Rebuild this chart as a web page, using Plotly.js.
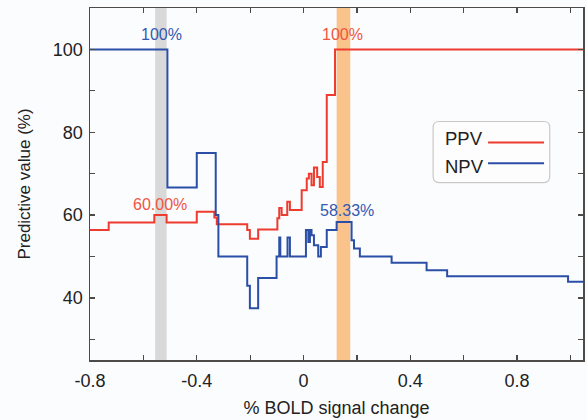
<!DOCTYPE html>
<html>
<head>
<meta charset="utf-8">
<script src="https://cdn.plot.ly/plotly-3.0.1.min.js"></script>
<style>html,body{margin:0;padding:0;background:#fbfcfe;}#chart{width:587px;height:420px;}</style>
</head>
<body>
<div id="chart"></div>
<script>
// PPV step curve (x = % BOLD signal change threshold, y = %)
var ppvX = [-0.8, -0.730, -0.559, -0.513, -0.400, -0.334, -0.325, -0.211, -0.201, -0.170, -0.098, -0.091, -0.082, -0.061, -0.051, -0.007, 0.012, 0.020, 0.030, 0.039, 0.051, 0.061, 0.072, 0.087, 0.118, 1.047];
var ppvY = [56.4, 58.2, 60.0, 58.2, 60.8, 59.4, 57.8, 56.4, 54.3, 56.5, 59.2, 61.7, 60.0, 63.2, 61.2, 66.0, 68.8, 70.0, 67.2, 71.5, 69.2, 66.8, 72.8, 89.0, 100, 100];
// NPV step curve
var npvX = [-0.8, -0.510, -0.400, -0.329, -0.319, -0.211, -0.201, -0.170, -0.101, -0.091, -0.087, -0.060, -0.051, 0.009, 0.018, 0.024, 0.030, 0.039, 0.055, 0.065, 0.087, 0.124, 0.180, 0.189, 0.211, 0.330, 0.461, 0.538, 0.991, 1.047];
var npvY = [100, 66.67, 75.0, 60.0, 50.0, 42.9, 37.5, 44.8, 50.0, 54.6, 50.0, 54.6, 50.0, 56.4, 53.5, 56.4, 55.1, 52.7, 50.0, 52.3, 56.4, 58.33, 53.9, 51.9, 50.0, 48.5, 46.7, 45.2, 43.9, 43.9];
// highlighted threshold bands
var bandStart = [-0.556, 0.124];
var bandEnd = [-0.513, 0.175];
var bandColor = ['#d9d9d9', '#f9c38b'];
// peak labels
var labelText = ['100%', '100%', '60.00%', '58.33%'];
var labelX = [-0.531, 0.146, -0.538, 0.164];
var labelY = [103.5, 103.5, 62.6, 61.2];
var labelColor = ['#3359b2', '#f0553f', '#f0553f', '#3359b2'];
// axis ticks
var xTickVals = [-0.8, -0.6, -0.4, -0.2, 0, 0.2, 0.4, 0.6, 0.8, 1.0];
var xTickText = ['-0.8', '', '-0.4', '', '0', '', '0.4', '', '0.8', ''];
var yTickVals = [30, 40, 50, 60, 70, 80, 90, 100];
var yTickText = ['', '40', '', '60', '', '80', '', '100'];
var seriesNames = ['PPV', 'NPV'];

var RED = '#ee3b2f', BLUE = '#2b4ea6';
var FONT = 'Liberation Sans, Arial, Helvetica, sans-serif';

var traces = [
  {x: ppvX, y: ppvY, mode: 'lines', line: {shape: 'hv', color: RED, width: 2}, name: seriesNames[0], showlegend: false},
  {x: npvX, y: npvY, mode: 'lines', line: {shape: 'hv', color: BLUE, width: 2}, name: seriesNames[1], showlegend: false}
];

var shapes = [];
for (var i = 0; i < bandStart.length; i++) {
  shapes.push({type: 'rect', xref: 'x', yref: 'paper', x0: bandStart[i], x1: bandEnd[i], y0: 0, y1: 1,
    fillcolor: bandColor[i], line: {width: 0}, layer: 'below'});
}
// custom legend box (rounded)
var lx0 = 0.696, lx1 = 0.9325, ly0 = 0.504, ly1 = 0.6776, rx = 0.012, ry = 0.017;
var p = 'M ' + (lx0 + rx) + ' ' + ly0 + ' L ' + (lx1 - rx) + ' ' + ly0 + ' Q ' + lx1 + ' ' + ly0 + ' ' + lx1 + ' ' + (ly0 + ry) +
  ' L ' + lx1 + ' ' + (ly1 - ry) + ' Q ' + lx1 + ' ' + ly1 + ' ' + (lx1 - rx) + ' ' + ly1 +
  ' L ' + (lx0 + rx) + ' ' + ly1 + ' Q ' + lx0 + ' ' + ly1 + ' ' + lx0 + ' ' + (ly1 - ry) +
  ' L ' + lx0 + ' ' + (ly0 + ry) + ' Q ' + lx0 + ' ' + ly0 + ' ' + (lx0 + rx) + ' ' + ly0 + ' Z';
shapes.push({type: 'path', xref: 'paper', yref: 'paper', path: p, fillcolor: '#fdfdfd', line: {color: '#c9c9c9', width: 1.2}});
shapes.push({type: 'line', xref: 'paper', yref: 'paper', x0: 0.8074, x1: 0.921, y0: 0.618, y1: 0.618, line: {color: RED, width: 2}});
shapes.push({type: 'line', xref: 'paper', yref: 'paper', x0: 0.8074, x1: 0.921, y0: 0.559, y1: 0.559, line: {color: BLUE, width: 2}});

var annotations = [];
for (var j = 0; j < labelText.length; j++) {
  annotations.push({x: labelX[j], y: labelY[j], xref: 'x', yref: 'y', text: labelText[j], showarrow: false,
    font: {family: FONT, size: 16, color: labelColor[j]}, xanchor: 'center', yanchor: 'middle'});
}
annotations.push({x: 0.716, y: 0.628, xref: 'paper', yref: 'paper', text: seriesNames[0], showarrow: false, xanchor: 'left', yanchor: 'middle', font: {family: FONT, size: 18.5, color: '#222'}});
annotations.push({x: 0.716, y: 0.5496, xref: 'paper', yref: 'paper', text: seriesNames[1], showarrow: false, xanchor: 'left', yanchor: 'middle', font: {family: FONT, size: 18.5, color: '#222'}});

var axisCommon = {showgrid: false, zeroline: false, showline: true, linecolor: '#4d4a48', linewidth: 1.5,
  ticks: 'inside', ticklen: 5, tickwidth: 1.3, tickcolor: '#4d4a48', mirror: 'ticks',
  tickfont: {family: FONT, size: 18, color: '#222'}};

var layout = {
  width: 587, height: 420,
  margin: {l: 90, r: 4, t: 8, b: 60},
  paper_bgcolor: '#fbfcfe', plot_bgcolor: '#fbfcfe',
  showlegend: false,
  xaxis: Object.assign({}, axisCommon, {range: [-0.8, 1.047], tickmode: 'array', tickvals: xTickVals, ticktext: xTickText,
    ticklabelstandoff: 4,
    title: {text: '% BOLD signal change', font: {family: FONT, size: 18, color: '#222'}, standoff: 11}}),
  yaxis: Object.assign({}, axisCommon, {range: [25, 110], tickmode: 'array', tickvals: yTickVals, ticktext: yTickText,
    ticklabelstandoff: 2,
    title: {text: 'Predictive value (%)', font: {family: FONT, size: 17, color: '#222'}, standoff: 18}}),
  shapes: shapes,
  annotations: annotations
};

Plotly.newPlot('chart', traces, layout, {displayModeBar: false, staticPlot: true});
</script>
</body>
</html>
